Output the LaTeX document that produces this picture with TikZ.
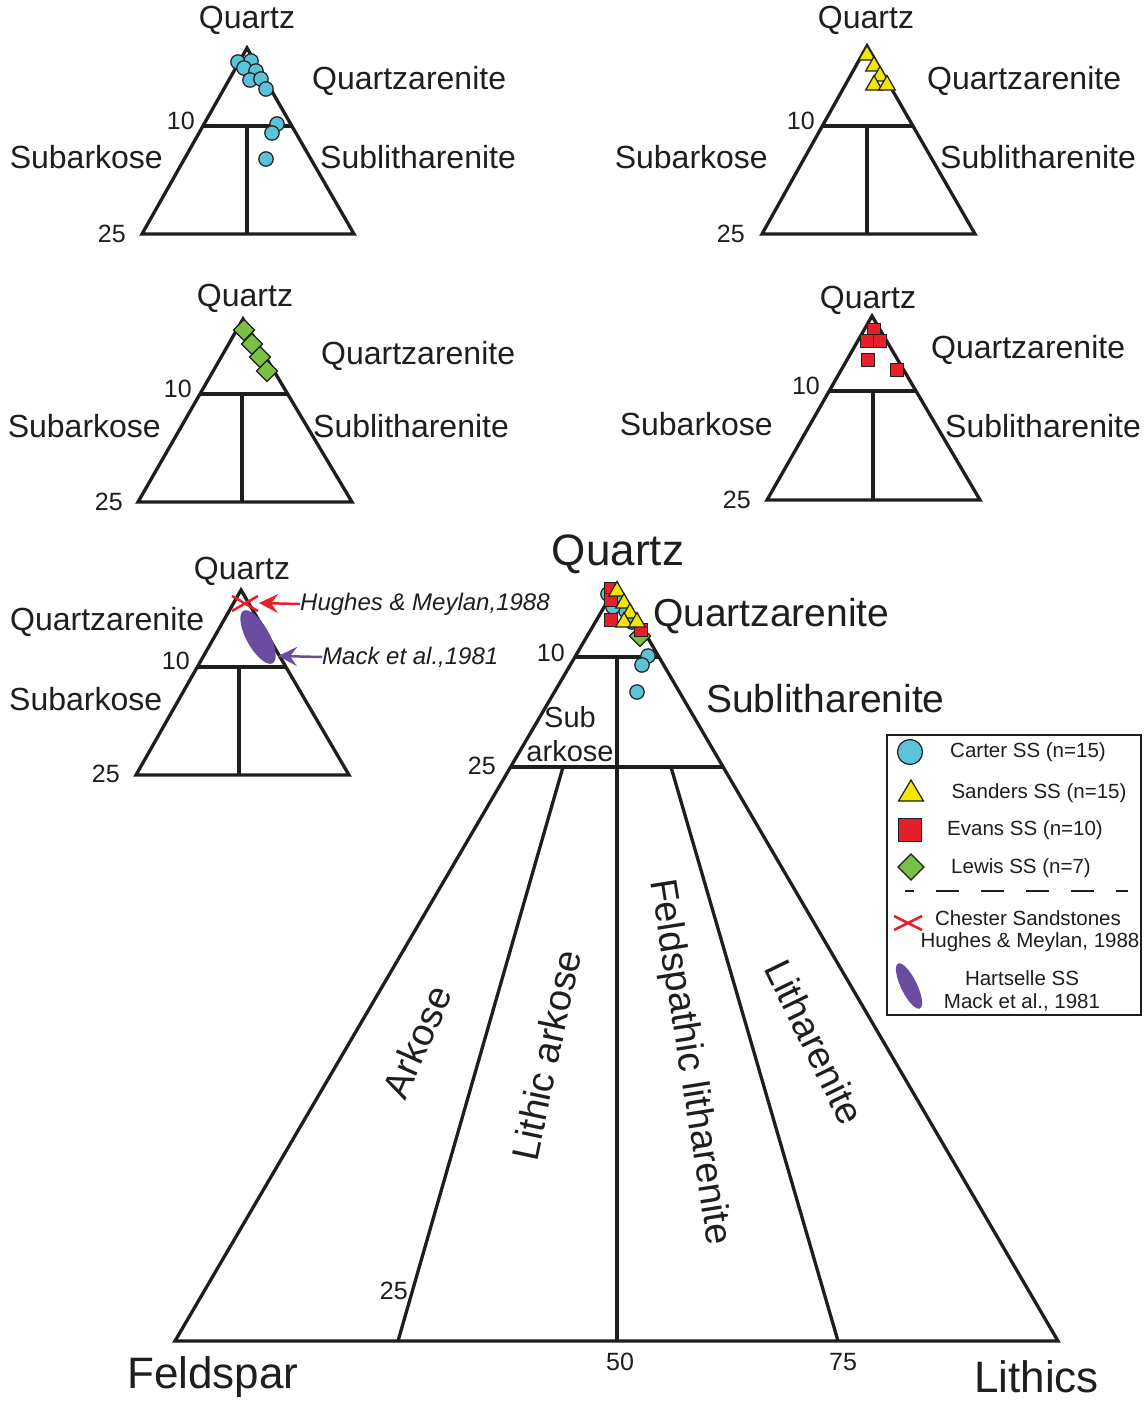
\documentclass[tikz,border=0pt]{standalone}
\usepackage{fontspec}
\setmainfont{Liberation Sans}
\usetikzlibrary{arrows.meta,calc}
\definecolor{cy}{HTML}{5BC3D7}
\definecolor{yl}{HTML}{F3E600}
\definecolor{rd}{HTML}{E6202A}
\definecolor{gr}{HTML}{7CBF45}
\definecolor{pu}{HTML}{6A4DA0}
\definecolor{ink}{HTML}{1E1E1E}
\tikzset{
  tri/.style={draw=ink, line width=3.3pt, line join=miter},
  lab/.style={inner sep=0pt, text=ink, font=\fontsize{32}{36}\selectfont},
  num/.style={inner sep=0pt, text=ink, font=\fontsize{25}{29}\selectfont},
  biglab/.style={inner sep=0pt, text=ink, font=\fontsize{39}{44}\selectfont},
  hugelab/.style={inner sep=0pt, text=ink, font=\fontsize{44}{50}\selectfont},
  rotlab/.style={inner sep=0pt, text=ink, font=\fontsize{38}{44}\selectfont},
  ital/.style={inner sep=0pt, text=ink, font=\fontsize{24}{28}\selectfont\itshape},
  leg/.style={inner sep=0pt, text=ink, font=\fontsize{20.5}{24}\selectfont},
  cmk/.style={draw=ink, line width=1.2pt, fill=cy},
  tmk/.style={draw=ink, line width=1.2pt, fill=yl, line join=miter},
  smk/.style={draw=ink, line width=1.2pt, fill=rd},
  dmk/.style={draw=ink, line width=1.2pt, fill=gr, line join=miter},
  arr/.style={line width=2.5pt, -{Stealth[length=19pt,width=19pt,inset=7pt]}},
}
\newcommand{\qtri}[8]{%
  \coordinate (#1a) at (#2,#3);
  \coordinate (#1l) at (#5,#4);
  \coordinate (#1r) at (#6,#4);
  \coordinate (#1tl) at ($(#1a)!{(#7-#3)/(#4-#3)}!(#1l)$);
  \coordinate (#1tr) at ($(#1a)!{(#7-#3)/(#4-#3)}!(#1r)$);
  \coordinate (#1vt) at (#8,#7);
  \coordinate (#1vb) at (#8,#4);
  \draw[tri] (#1a) -- (#1l) -- (#1r) -- cycle;
  \draw[tri] (#1tl) -- (#1tr);
  \draw[tri] (#1vt) -- (#1vb);
}
\newcommand{\mcirc}[2]{\filldraw[cmk] (#1,#2) circle (7.2);}
\newcommand{\mtri}[2]{\filldraw[tmk] (#1,#2) +(0,-9.5) -- +(8.3,5) -- +(-8.3,5) -- cycle;}
\newcommand{\msq}[2]{\filldraw[smk] (#1,#2) +(-6.5,-6.5) rectangle +(6.5,6.5);}
\newcommand{\mdia}[2]{\filldraw[dmk] (#1,#2) +(0,-10.5) -- +(10.5,0) -- +(0,10.5) -- +(-10.5,0) -- cycle;}
\begin{document}
\begin{tikzpicture}[x=1pt,y=-1pt]
\useasboundingbox[fill=white] (0,0) rectangle (1147,1401);

% ---------- top-left (Carter) ----------
\qtri{A}{247}{48}{234}{142}{354}{126}{247}
\node[lab] (Aq) at (247,20) {Quartz};
\node[lab, anchor=west] (Aqa) at (312,81) {Quartzarenite};
\node[num, anchor=east] (A10) at (195,121) {10};
\node[lab, anchor=east] (Asa) at (163,157) {Subarkose};
\node[lab, anchor=west] (Asl) at (320,157) {Sublitharenite};
\node[num, anchor=east] (A25) at (126,234) {25};
\mcirc{238}{62}\mcirc{251}{61}\mcirc{244}{68}\mcirc{256}{71}\mcirc{250}{80}
\mcirc{261}{79}\mcirc{266}{89}\mcirc{277}{124}\mcirc{272}{133}\mcirc{266}{159}

% ---------- top-right (Sanders) ----------
\qtri{B}{867}{46}{234}{762}{975}{126}{867}
\node[lab] (Bq) at (866,20) {Quartz};
\node[lab, anchor=west] (Bqa) at (927,81) {Quartzarenite};
\node[num, anchor=east] (B10) at (815,121) {10};
\node[lab, anchor=east] (Bsa) at (768,157) {Subarkose};
\node[lab, anchor=west] (Bsl) at (940,157) {Sublitharenite};
\node[num, anchor=east] (B25) at (745,234) {25};
\mtri{867}{55}\mtri{874}{66}\mtri{880}{76}\mtri{874}{85}\mtri{887}{85}

% ---------- middle-left (Lewis) ----------
\qtri{C}{243}{319}{502}{138}{352}{394}{242}
\node[lab] (Cq) at (245,298) {Quartz};
\node[lab, anchor=west] (Cqa) at (321,356) {Quartzarenite};
\node[num, anchor=east] (C10) at (192,389) {10};
\node[lab, anchor=east] (Csa) at (161,426) {Subarkose};
\node[lab, anchor=west] (Csl) at (313,426) {Sublitharenite};
\node[num, anchor=east] (C25) at (123,502) {25};
\mdia{244}{330}\mdia{252}{344}\mdia{260}{357}\mdia{267}{371}

% ---------- middle-right (Evans) ----------
\qtri{D}{872}{316}{500}{767}{980}{391}{873}
\node[lab] (Dq) at (868,300) {Quartz};
\node[lab, anchor=west] (Dqa) at (931,350) {Quartzarenite};
\node[num, anchor=east] (D10) at (820,386) {10};
\node[lab, anchor=east] (Dsa) at (773,424) {Subarkose};
\node[lab, anchor=west] (Dsl) at (945,426) {Sublitharenite};
\node[num, anchor=east] (D25) at (751,500) {25};
\msq{874}{330}\msq{867}{341}\msq{880}{341}\msq{868}{360}\msq{897}{370}

% ---------- bottom-left (literature) ----------
\qtri{E}{241}{590}{775}{136}{349}{667}{239}
\node[lab] (Eq) at (242,571) {Quartz};
\node[lab, anchor=west] (Eqa) at (10,622) {Quartzarenite};
\node[num, anchor=east] (E10) at (190,661) {10};
\node[lab, anchor=west] (Esa) at (9,699) {Subarkose};
\node[num, anchor=east] (E25) at (120,774) {25};
\fill[pu, rotate around={29:(258,637)}] (258,637) ellipse [x radius=11.5, y radius=30];
\draw[rd, line width=2.5pt] (232,596) -- (258,611) (232,611) -- (258,596);
\node[ital, anchor=west] (hug) at (300,604) {Hughes \& Meylan,1988};
\coordinate (hugtip) at (259,603);
\draw[rd, arr] (hug.west) -- (hugtip);
\node[ital, anchor=west] (mack) at (322,657) {Mack et al.,1981};
\coordinate (macktip) at (278,656);
\draw[pu, arr] (mack.west) -- (macktip);

% ---------- main triangle ----------
\coordinate (Ma) at (617,585);
\coordinate (Ml) at (175,1341);
\coordinate (Mr) at (1058,1341);
\coordinate (M10l) at (575,657);
\coordinate (M10r) at (659,657);
\coordinate (M25l) at (511,767);
\coordinate (M25r) at (723,767);
\coordinate (Mv) at (617,657);
\coordinate (Mvb) at (617,1341);
\coordinate (Mla) at (563,767);
\coordinate (Mlb) at (398,1341);
\coordinate (Mra) at (671,767);
\coordinate (Mrb) at (838,1341);
\draw[tri] (Ma) -- (Ml) -- (Mr) -- cycle;
\draw[tri] (M10l) -- (M10r);
\draw[tri] (M25l) -- (M25r);
\draw[tri] (Mv) -- (Mvb);
\draw[tri] (Mla) -- (Mlb);
\draw[tri] (Mra) -- (Mrb);

\node[hugelab] (Mq) at (618,554) {Quartz};
\node[biglab, anchor=west] (Mqa) at (653,616) {Quartzarenite};
\node[biglab, anchor=west] (Msl) at (706,699) {Sublitharenite};
\node[num, anchor=east] (M10) at (565,653) {10};
\node[num, anchor=east] (M25) at (496,766) {25};
\node[lab, font=\fontsize{29}{33}\selectfont] (Msub) at (570,717) {Sub};
\node[lab, font=\fontsize{29}{33}\selectfont] (Mark) at (570,751) {arkose};
\node[rotlab, rotate=66] (Mar) at (417,1042) {Arkose};
\node[rotlab, rotate=78] (Mla2) at (546,1055) {Lithic arkose};
\node[rotlab, rotate=-81] (Mfl) at (689,1062) {Feldspathic litharenite};
\node[rotlab, rotate=-64] (Mli) at (815,1042) {Litharenite};
\node[num, anchor=east] (Mb25) at (408,1291) {25};
\node[num] (Mb50) at (620,1362) {50};
\node[num] (Mb75) at (843,1362) {75};
\node[hugelab, anchor=west] (Mfs) at (127,1377) {Feldspar};
\node[hugelab, anchor=east] (Mlt) at (1099,1377) {Lithics};

% main markers
\mcirc{608}{594}\mcirc{619}{601}\mcirc{626}{611}\mcirc{632}{622}\mcirc{613}{607}
\mcirc{648}{656}\mcirc{642}{665}\mcirc{637}{692}
\mdia{640}{636}
\msq{611}{589}\msq{611}{600}\msq{611}{620}\msq{641}{630}
\mtri{617}{591}\mtri{624}{603}\mtri{630}{613}\mtri{624}{622}\mtri{637}{622}

% ---------- legend ----------
\draw[draw=ink, line width=2.5pt] (887,735) rectangle (1141,1015);
\filldraw[cmk] (910,752) circle (12.5);
\filldraw[tmk] (911,793) +(0,-13) -- +(12.5,8) -- +(-12.5,8) -- cycle;
\filldraw[smk] (910,830) +(-11.5,-11.5) rectangle +(11.5,11.5);
\filldraw[dmk] (911,867) +(0,-13) -- +(13,0) -- +(0,13) -- +(-13,0) -- cycle;
\draw[draw=ink, line width=1.5pt, dash pattern=on 23pt off 22pt, dash phase=14pt] (905,891) -- (1128,891);
\draw[rd, line width=2.5pt] (894,916) -- (922,930) (894,930) -- (922,916);
\fill[pu, rotate around={26:(909,986)}] (909,986) ellipse [x radius=8, y radius=25];
\node[leg] (l1) at (1028,752) {Carter SS (n=15)};
\node[leg] (l2) at (1039,793) {Sanders SS (n=15)};
\node[leg] (l3) at (1025,830) {Evans SS (n=10)};
\node[leg] (l4) at (1021,868) {Lewis SS (n=7)};
\node[leg] (l5) at (1028,918) {Chester Sandstones};
\node[leg] (l6) at (1030,942) {Hughes \& Meylan, 1988};
\node[leg] (l7) at (1022,978) {Hartselle SS};
\node[leg] (l8) at (1022,1002) {Mack et al., 1981};
\end{tikzpicture}
\end{document}
